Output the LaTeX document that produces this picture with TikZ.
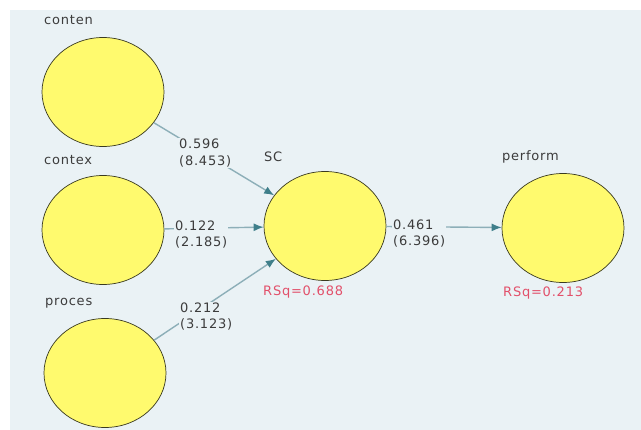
\documentclass[tikz,border=0pt]{standalone}
\usepackage{fontspec}
\setmainfont{DejaVu Sans}[LetterSpace=6]
\usepackage{tikz}
\usetikzlibrary{arrows.meta,positioning,shapes.geometric}
\definecolor{bgblue}{HTML}{EAF2F5}
\definecolor{lvfill}{HTML}{FFFA6E}
\definecolor{lvline}{HTML}{3A3A20}
\definecolor{pathline}{HTML}{8DAFB8}
\definecolor{pathhead}{HTML}{3F7F8A}
\definecolor{txtgray}{HTML}{3C3C3C}
\definecolor{rsqred}{HTML}{E2506A}
\tikzstyle{latent}=[draw=lvline,fill=lvfill,ellipse,line width=0.7pt,minimum width=122pt,minimum height=109pt,inner sep=0pt]
\tikzstyle{cname}=[anchor=west,inner sep=0pt,text=txtgray]
\tikzstyle{coef}=[anchor=west,align=left,fill=bgblue,inner sep=1pt,text=txtgray]
\tikzstyle{rsq}=[anchor=west,inner sep=0pt,text=rsqred]
\tikzstyle{inner}=[draw=pathline,line width=1.4pt,-{Latex[length=10pt,width=8pt,color=pathhead]}]

\begin{document}
\begin{tikzpicture}[x=1pt,y=-1pt,font=\fontsize{13}{16.5}\selectfont]
    \useasboundingbox (0,0) rectangle (641,430);
    \fill [bgblue] (10,10) rectangle (641,430);

    \node [latent] (conten) at (103,92) {};
    \node [latent] (contex) at (103,230) {};
    \node [latent] (proces) at (105,373) {};
    \node [latent] (sc) at (325,226) {};
    \node [latent] (perform) at (563,228) {};

    \node [cname] (conten-lbl) at (44,20) {conten};
    \node [cname] (contex-lbl) at (44,160) {contex};
    \node [cname] (proces-lbl) at (45,303) {proces};
    \node [cname] (sc-lbl) at (264,157) {SC};
    \node [cname] (perform-lbl) at (502,157) {perform};

    \draw [inner] (conten) -- (sc);
    \draw [inner] (contex) -- (sc);
    \draw [inner] (proces) -- (sc);
    \draw [inner] (sc) -- (perform);

    \node [coef] (w-conten) at (178,153) {0.596\\(8.453)};
    \node [coef] (w-contex) at (174,234.5) {0.122\\(2.185)};
    \node [coef] (w-proces) at (179,316.5) {0.212\\(3.123)};
    \node [coef] (w-sc) at (392,233.5) {0.461\\(6.396)};

    \node [rsq] (rsq-sc) at (263,292) {RSq=0.688};
    \node [rsq] (rsq-perform) at (503,293) {RSq=0.213};
\end{tikzpicture}
\end{document}
